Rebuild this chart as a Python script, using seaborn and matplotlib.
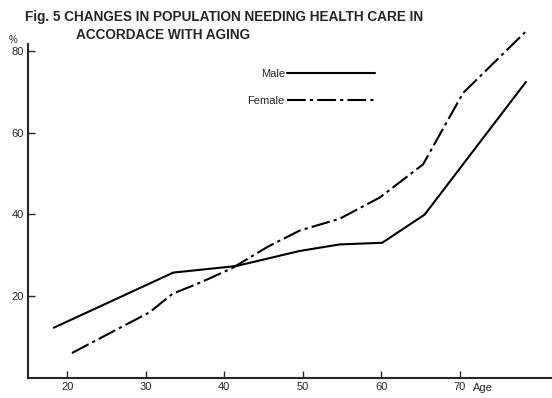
import pandas as pd
import matplotlib
matplotlib.use("Agg")
import matplotlib.pyplot as plt
import seaborn as sns

# values
male_age = [18.3, 33.5, 41.5, 49.6, 54.7, 60.1, 65.5, 78.4]
male_pct = [12.2, 25.7, 27.3, 31.0, 32.6, 33.0, 39.9, 72.4]

female_age = [20.6, 30.5, 33.4, 37.0, 41.0, 45.5, 49.6, 54.7, 59.8, 65.3, 70.4, 78.3]
female_pct = [6.0, 16.0, 20.5, 23.3, 26.8, 32.0, 36.0, 38.9, 44.1, 52.2, 69.7, 84.6]

x_ticks = [20, 30, 40, 50, 60, 70]
y_ticks = [20, 40, 60, 80]

title_line1 = "Fig. 5 CHANGES IN POPULATION NEEDING HEALTH CARE IN"
title_line2 = "ACCORDACE WITH AGING"


def make_chart():
    sns.set_style("ticks")
    plt.rcParams['font.family'] = ['Liberation Sans', 'DejaVu Sans']

    fig = plt.figure(figsize=(5.52, 3.98), dpi=100)
    ax = fig.add_axes([0.0507, 0.0515, 0.949, 0.838])

    male_df = pd.DataFrame({'age': male_age, 'pct': male_pct})
    female_df = pd.DataFrame({'age': female_age, 'pct': female_pct})

    # the female curve runs above the top of the y axis in the original
    sns.lineplot(data=male_df, x='age', y='pct', ax=ax, color='black',
                 lw=1.5, label='Male', sort=False, clip_on=False)
    sns.lineplot(data=female_df, x='age', y='pct', ax=ax, color='black',
                 lw=1.5, linestyle=(0, (9, 2, 1.5, 2)), label='Female',
                 sort=False, clip_on=False)

    ax.set_xlim(15.0, 81.7)
    ax.set_ylim(0, 81.7)
    ax.set_xticks(x_ticks)
    ax.set_yticks(y_ticks)
    ax.set_xlabel('')
    ax.set_ylabel('')
    ax.tick_params(direction='in', length=5, width=1, labelsize=8, pad=3)

    sns.despine(ax=ax)
    for side in ['left', 'bottom']:
        ax.spines[side].set_linewidth(1.5)

    # axis unit labels
    ax.text(0.849, -0.016, 'Age', transform=ax.transAxes, fontsize=8,
            ha='left', va='top')
    fig.text(0.015, 0.899, '%', fontsize=7, ha='left', va='center')

    fig.text(0.045, 0.957, title_line1, fontsize=9.8, fontweight='bold',
             ha='left', va='center')
    fig.text(0.138, 0.912, title_line2, fontsize=9.8, fontweight='bold',
             ha='left', va='center')

    ax.legend(loc='upper left', bbox_to_anchor=(0.40, 0.955), frameon=False,
              markerfirst=False, handlelength=7.9, fontsize=8,
              labelspacing=1.5, handletextpad=0.2)

    fig.savefig('out.png', dpi=100)


if __name__ == "__main__":
    make_chart()
